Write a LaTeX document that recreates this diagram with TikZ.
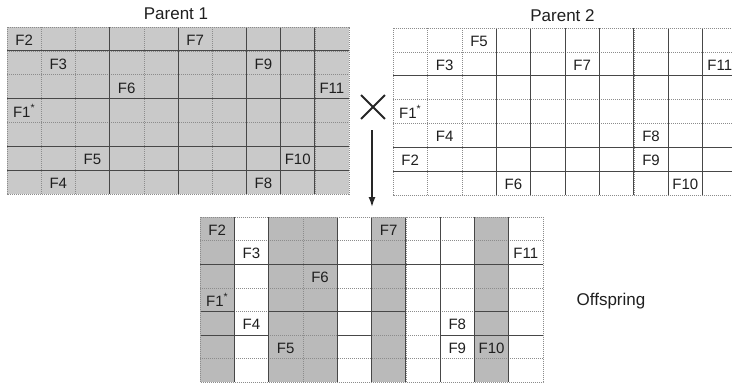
\documentclass[tikz,border=0pt]{standalone}
\usepackage{fontspec}
\setmainfont{Liberation Sans}
\usetikzlibrary{arrows.meta,shapes.misc}
\tikzset{
  minorline/.style={draw=black!45, line width=0.5pt, dash pattern=on 1.2pt off 0.8pt},
  majorline/.style={draw=black!72, line width=1pt},
  celllabel/.style={font=\fontsize{15}{18}\selectfont, text=black!88, inner sep=0pt, anchor=base, yshift=-6.5pt},
  titlelabel/.style={font=\fontsize{17}{20}\selectfont, text=black!88, inner sep=0pt, anchor=base},
  shadeA/.style={fill=black!21},
  shadeB/.style={fill=black!27},
  crossmark/.style={cross out, draw=black!85, line width=1.8pt, minimum size=22pt, inner sep=0pt},
  bigarrow/.style={-{Latex[length=10pt,width=7pt]}, line width=1.5pt, draw=black!85},
}
\newcommand\flab[4]{\node[celllabel] (#1) at ({#2-0.5},{#3-0.5}) {#4};}
\newcommand\fstar{F1\textsuperscript{*}}
\begin{document}
\begin{tikzpicture}[x=1pt,y=-1pt]
\path[use as bounding box, clip] (0,0) rectangle (732,383);
\fill[white] (0,0) rectangle (732,383);

% titles
\node[titlelabel] (t1) at (176,19.3) {Parent 1};
\node[titlelabel] (t2) at (562.5,21.7) {Parent 2};
\node[titlelabel] (t3) at (611,305) {Offspring};

% Parent 1
\begin{scope}[shift={(7pt,-27pt)}, x=34.2pt, y=-23.86pt]
 \fill[shadeA] (0,0) rectangle (10,7);
 \foreach \i in {1,...,9} \draw[minorline] (\i,0) -- (\i,7);
 \foreach \j in {1,...,6} \draw[minorline] (0,\j) -- (10,\j);
 \foreach \i in {3,5,7,8,9} \draw[majorline] (\i,0) -- (\i,7);
 \foreach \j in {1,3,5,6} \draw[majorline] (0,\j) -- (10,\j);
 \draw[minorline] (0,0) rectangle (10,7);
 \flab{a2}{1}{1}{F2}
 \flab{a7}{6}{1}{F7}
 \flab{a3}{2}{2}{F3}
 \flab{a9}{8}{2}{F9}
 \flab{a6}{4}{3}{F6}
 \flab{a11}{10}{3}{F11}
 \flab{a1}{1}{4}{\fstar}
 \flab{a5}{3}{6}{F5}
 \flab{a10}{9}{6}{F10}
 \flab{a4}{2}{7}{F4}
 \flab{a8}{8}{7}{F8}
\end{scope}

% Parent 2
\begin{scope}[shift={(393pt,-28pt)}, x=34.4pt, y=-23.86pt]
 \foreach \i in {1,...,9} \draw[minorline] (\i,0) -- (\i,7);
 \foreach \j in {1,...,6} \draw[minorline] (0,\j) -- (10,\j);
 \foreach \i in {3,4,5,6,7,8,9} \draw[majorline] (\i,0) -- (\i,7);
 \foreach \j in {2,5,6} \draw[majorline] (0,\j) -- (10,\j);
 \draw[minorline] (0,0) rectangle (10,7);
 \flab{b5}{3}{1}{F5}
 \flab{b3}{2}{2}{F3}
 \flab{b7}{6}{2}{F7}
 \flab{b11}{10}{2}{F11}
 \flab{b1}{1}{4}{\fstar}
 \flab{b4}{2}{5}{F4}
 \flab{b8}{8}{5}{F8}
 \flab{b2}{1}{6}{F2}
 \flab{b9}{8}{6}{F9}
 \flab{b6}{4}{7}{F6}
 \flab{b10}{9}{7}{F10}
\end{scope}

% Offspring
\begin{scope}[shift={(200pt,-217pt)}, x=34.3pt, y=-23.6pt]
 \foreach \c in {0,2,3,5,8} \fill[shadeB] (\c,0) rectangle (\c+1,7);
 \foreach \i in {1,...,9} \draw[minorline] (\i,0) -- (\i,7);
 \foreach \j in {1,...,6} \draw[minorline] (0,\j) -- (10,\j);
 \foreach \i in {1,2,4,5,6,7,8,9} \draw[majorline] (\i,0) -- (\i,7);
 \draw[majorline] (0,2) -- (10,2);
 \draw[majorline] (0,4) -- (1,4);
 \draw[majorline] (2,4) -- (6,4);
 \draw[majorline] (8,4) -- (9,4);
 \draw[majorline] (0,5) -- (2,5);
 \draw[majorline] (4,5) -- (5,5);
 \draw[majorline] (7,5) -- (10,5);
 \draw[minorline] (0,0) rectangle (10,7);
 \flab{c2}{1}{1}{F2}
 \flab{c7}{6}{1}{F7}
 \flab{c3}{2}{2}{F3}
 \flab{c11}{10}{2}{F11}
 \flab{c6}{4}{3}{F6}
 \flab{c1}{1}{4}{\fstar}
 \flab{c4}{2}{5}{F4}
 \flab{c8}{8}{5}{F8}
 \flab{c5}{3}{6}{F5}
 \flab{c9}{8}{6}{F9}
 \flab{c10}{9}{6}{F10}
\end{scope}

% cross and arrow
\node[crossmark] (cross) at (373,107) {};
\coordinate (arrowtop) at (372,130);
\coordinate (arrowtip) at (372,207);
\draw[bigarrow] (arrowtop) -- (arrowtip);
\end{tikzpicture}
\end{document}
